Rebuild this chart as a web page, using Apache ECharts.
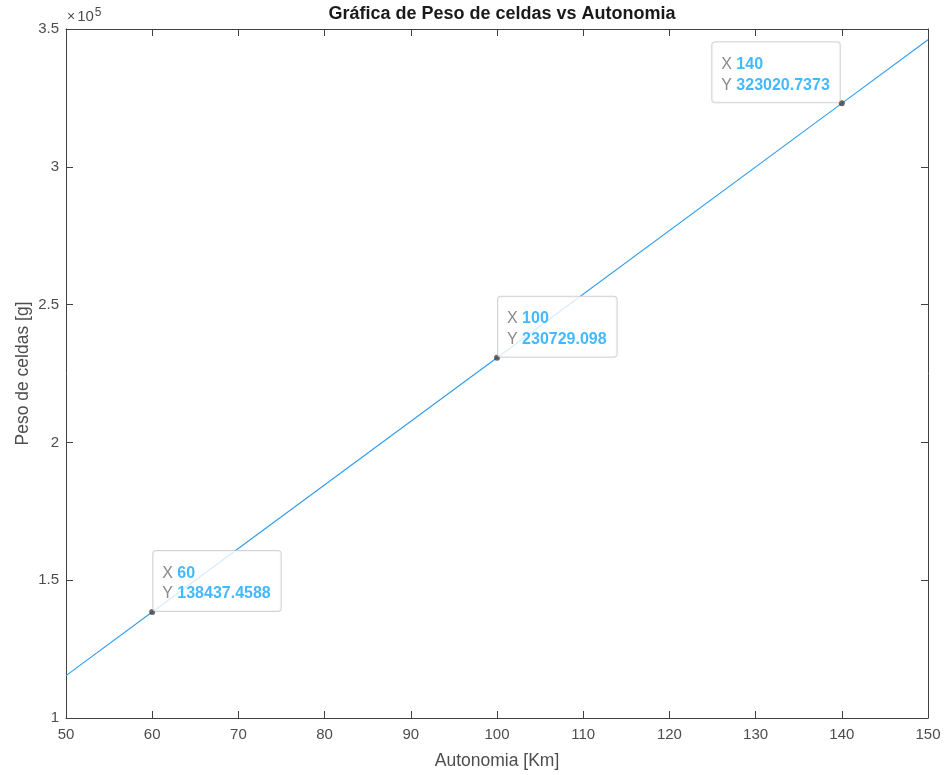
<!DOCTYPE html>
<html>
<head>
<meta charset="utf-8">
<script src="https://cdn.jsdelivr.net/npm/echarts@6/dist/echarts.min.js"></script>
<style>html,body{margin:0;padding:0;background:#fff}#c{width:947px;height:775px}</style>
</head>
<body>
<div id="c"></div>
<script>
const titleText = 'Gráfica de Peso de celdas vs Autonomia';
const xName = 'Autonomia [Km]';
const yName = 'Peso de celdas [g]';
const xTicks = [50, 60, 70, 80, 90, 100, 110, 120, 130, 140, 150];
const yTicks = [100000, 150000, 200000, 250000, 300000, 350000];
const yExponent = 5;
const autonomia = [50, 60, 100, 140, 150];
const peso = [115364.55, 138437.4588, 230729.098, 323020.7373, 346093.6];
const tipX = [60, 100, 140];
const tipY = [138437.4588, 230729.098, 323020.7373];

const FONT = '"Liberation Sans", Arial, Helvetica, sans-serif';
const AX = '#404040';
const TXT = '#4d4d4d';
const scale = Math.pow(10, yExponent);

const xMin = xTicks[0], xMax = xTicks[xTicks.length - 1];
const xInt = xTicks[1] - xTicks[0];
const yMin = yTicks[0], yMax = yTicks[yTicks.length - 1];
const yInt = yTicks[1] - yTicks[0];

function axisCommon(extra) {
  return Object.assign({
    axisLine: { show: true, onZero: false, lineStyle: { color: AX, width: 1 } },
    axisTick: { show: true, inside: true, length: 7, lineStyle: { color: AX, width: 1 } },
    splitLine: { show: false },
    nameMoveOverlap: false,
    nameTextStyle: { color: TXT, fontFamily: FONT, fontSize: 17.5 }
  }, extra);
}

const tipData = tipX.map((x, i) => {
  const last = i === tipX.length - 1;
  return {
    value: [x, tipY[i]],
    label: {
      align: last ? 'right' : 'left',
      offset: last ? [-2, -1] : [1, -1]
    }
  };
});

const chart = echarts.init(document.getElementById('c'), null, { renderer: 'canvas' });
chart.setOption({
  animation: false,
  backgroundColor: '#fff',
  title: {
    text: titleText,
    left: 497,
    textAlign: 'center',
    top: 0,
    textStyle: { fontFamily: FONT, fontSize: 18, fontWeight: 'bold', color: '#1a1a1a' }
  },
  grid: { left: 66, right: 19, top: 29, bottom: 54, containLabel: false },
  xAxis: [
    axisCommon({
      type: 'value', min: xMin, max: xMax, interval: xInt, position: 'bottom',
      name: xName, nameLocation: 'middle', nameGap: 34,
      axisLabel: { color: TXT, fontFamily: FONT, fontSize: 15, margin: 9 }
    }),
    axisCommon({
      type: 'value', min: xMin, max: xMax, interval: xInt, position: 'top',
      axisLabel: { show: false }
    })
  ],
  yAxis: [
    axisCommon({
      type: 'value', min: yMin, max: yMax, interval: yInt, position: 'left',
      name: yName, nameLocation: 'middle', nameGap: 34, nameRotate: 90,
      axisLabel: {
        color: TXT, fontFamily: FONT, fontSize: 15, margin: 7,
        formatter: v => String(+(v / scale).toFixed(2))
      }
    }),
    axisCommon({
      type: 'value', min: yMin, max: yMax, interval: yInt, position: 'right',
      axisLabel: { show: false }
    })
  ],
  graphic: [{
    type: 'text',
    left: 67, top: 7,
    style: {
      text: '{x|×}{a|10}{b|' + yExponent + '}',
      rich: {
        x: { fontFamily: FONT, fontSize: 14, fill: TXT, padding: [8, 2, 0, 0] },
        a: { fontFamily: FONT, fontSize: 15, fill: TXT, padding: [8, 0, 0, 0] },
        b: { fontFamily: FONT, fontSize: 12, fill: TXT, padding: [0, 0, 0, 1] }
      }
    }
  }],
  series: [
    {
      type: 'line',
      data: autonomia.map((x, i) => [x, peso[i]]),
      showSymbol: false,
      symbol: 'none',
      lineStyle: { color: '#2e9cf0', width: 1.1 },
      z: 2
    },
    {
      type: 'scatter',
      data: tipData,
      symbol: 'circle',
      symbolSize: 6,
      itemStyle: { color: '#3f3f3f' },
      z: 5,
      label: {
        show: true,
        position: 'inside',
        verticalAlign: 'bottom',
        backgroundColor: '#fff',
        borderColor: '#c8c8c8',
        borderWidth: 1,
        borderRadius: 3,
        padding: [12, 10, 7, 9],
        lineHeight: 20.5,
        formatter: p => '{k|X }{v|' + p.value[0] + '}\n{k|Y }{v|' + p.value[1] + '}',
        rich: {
          k: { align: 'left', fontFamily: FONT, fontSize: 16, color: '#6b6b6b', lineHeight: 20.5 },
          v: { align: 'left', fontFamily: FONT, fontSize: 16, fontWeight: 'bold', color: '#14a8ff', lineHeight: 20.5 }
        }
      }
    }
  ]
});
</script>
</body>
</html>
